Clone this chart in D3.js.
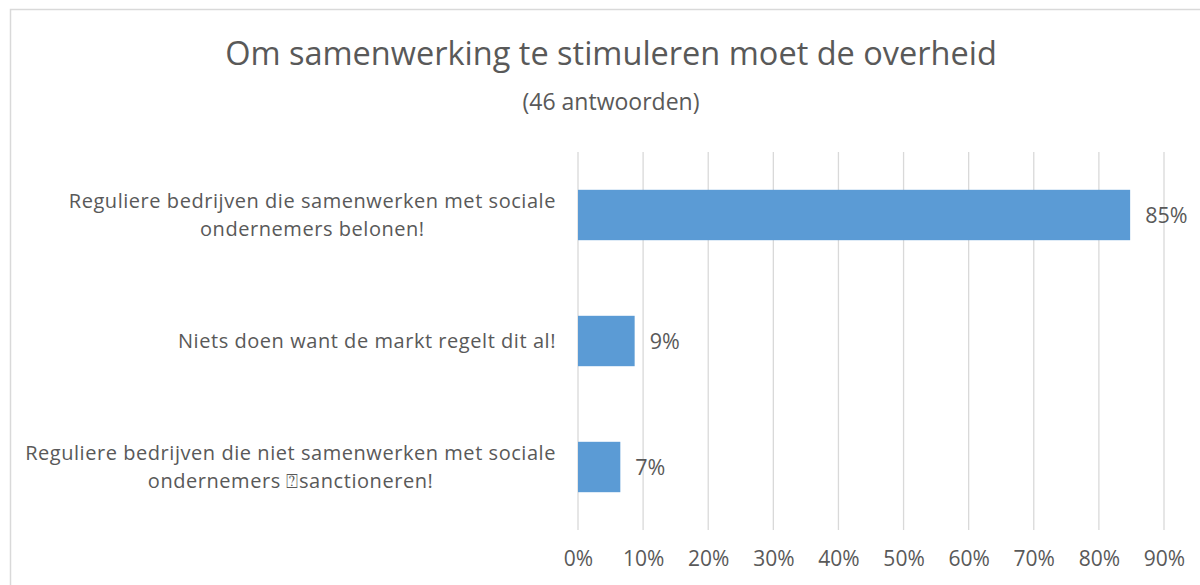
<!DOCTYPE html>
<html>
<head>
<meta charset="utf-8">
<script src="https://cdn.jsdelivr.net/npm/d3@7"></script>
<style>
  body { margin: 0; background: #fff; }
  svg { display: block; font-family: "Open Sans", "Noto Sans", sans-serif; }
</style>
</head>
<body>
<div id="chart"></div>
<script>
// chart data
var title = "Om samenwerking te stimuleren moet de overheid";
var subtitle = "(46 antwoorden)";
var categories = [
  ["Reguliere bedrijven die samenwerken met sociale", "ondernemers belonen!"],
  ["Niets doen want de markt regelt dit al!"],
  ["Reguliere bedrijven die niet samenwerken met sociale", "ondernemers \u2370sanctioneren!"]
];
var values = [0.848, 0.087, 0.065];
var valueLabels = ["85%", "9%", "7%"];
var ticks = [0, 0.1, 0.2, 0.3, 0.4, 0.5, 0.6, 0.7, 0.8, 0.9];

var W = 1200, H = 585;
var plot = { left: 578, right: 1164, top: 152, bottom: 530 };
var textColor = "#595959";

var svg = d3.select("#chart").append("svg")
  .attr("width", W)
  .attr("height", H);

// outer frame (cut at right and bottom edge)
svg.append("rect")
  .attr("x", 10.5).attr("y", 9.5)
  .attr("width", W).attr("height", H)
  .attr("fill", "none")
  .attr("stroke", "#d9d9d9")
  .attr("stroke-width", 1.5);

svg.append("text")
  .attr("x", 611).attr("y", 65)
  .attr("text-anchor", "middle")
  .attr("font-size", 32.5)
  .attr("fill", textColor)
  .text(title);

svg.append("text")
  .attr("x", 611).attr("y", 110)
  .attr("text-anchor", "middle")
  .attr("font-size", 23)
  .attr("fill", textColor)
  .text(subtitle);

var x = d3.scaleLinear().domain([0, 0.9]).range([plot.left, plot.right]);
var y = d3.scaleBand()
  .domain(d3.range(categories.length))
  .range([plot.top, plot.bottom])
  .paddingInner(0.6)
  .paddingOuter(0.3);

// gridlines
svg.append("g")
  .selectAll("line")
  .data(ticks)
  .enter()
  .append("line")
  .attr("x1", function (d) { return x(d); })
  .attr("x2", function (d) { return x(d); })
  .attr("y1", plot.top)
  .attr("y2", plot.bottom)
  .attr("stroke", "#d9d9d9")
  .attr("stroke-width", 1.3);

// x axis labels
var xAxis = d3.axisBottom(x)
  .tickValues(ticks)
  .tickFormat(d3.format(".0%"))
  .tickSize(0)
  .tickPadding(0);

var gx = svg.append("g")
  .attr("transform", "translate(0," + (plot.bottom + 21) + ")")
  .call(xAxis);
gx.select(".domain").remove();
gx.selectAll("text")
  .attr("font-family", "Open Sans, sans-serif")
  .attr("font-size", 21)
  .attr("fill", textColor)
  .attr("dy", "0.71em");

// bars
svg.append("g")
  .selectAll("rect")
  .data(values)
  .enter()
  .append("rect")
  .attr("x", x(0))
  .attr("y", function (d, i) { return y(i); })
  .attr("width", function (d) { return x(d) - x(0); })
  .attr("height", y.bandwidth())
  .attr("fill", "#5b9bd5");

// value labels
svg.append("g")
  .selectAll("text")
  .data(values)
  .enter()
  .append("text")
  .attr("x", function (d) { return x(d) + 15; })
  .attr("y", function (d, i) { return y(i) + y.bandwidth() / 2; })
  .attr("dy", "0.35em")
  .attr("font-size", 21.5)
  .attr("fill", textColor)
  .text(function (d, i) { return valueLabels[i]; });

// category labels: block right aligned, lines centred inside block
var labelRight = 556, lineH = 27.3;
var cat = svg.append("g")
  .selectAll("g")
  .data(categories)
  .enter()
  .append("g");

cat.each(function (lines, i) {
  var g = d3.select(this);
  var cy = y(i) + y.bandwidth() / 2;
  var texts = lines.map(function (l, k) {
    return g.append("text")
      .attr("font-size", 20)
      .attr("letter-spacing", "0.55px")
      .attr("fill", textColor)
      .attr("text-anchor", "middle")
      .attr("y", cy + (k - (lines.length - 1) / 2) * lineH)
      .attr("dy", "0.35em")
      .text(l);
  });
  var maxW = d3.max(texts, function (t) { return t.node().getComputedTextLength(); });
  texts.forEach(function (t) { t.attr("x", labelRight - maxW / 2); });
});
</script>
</body>
</html>
